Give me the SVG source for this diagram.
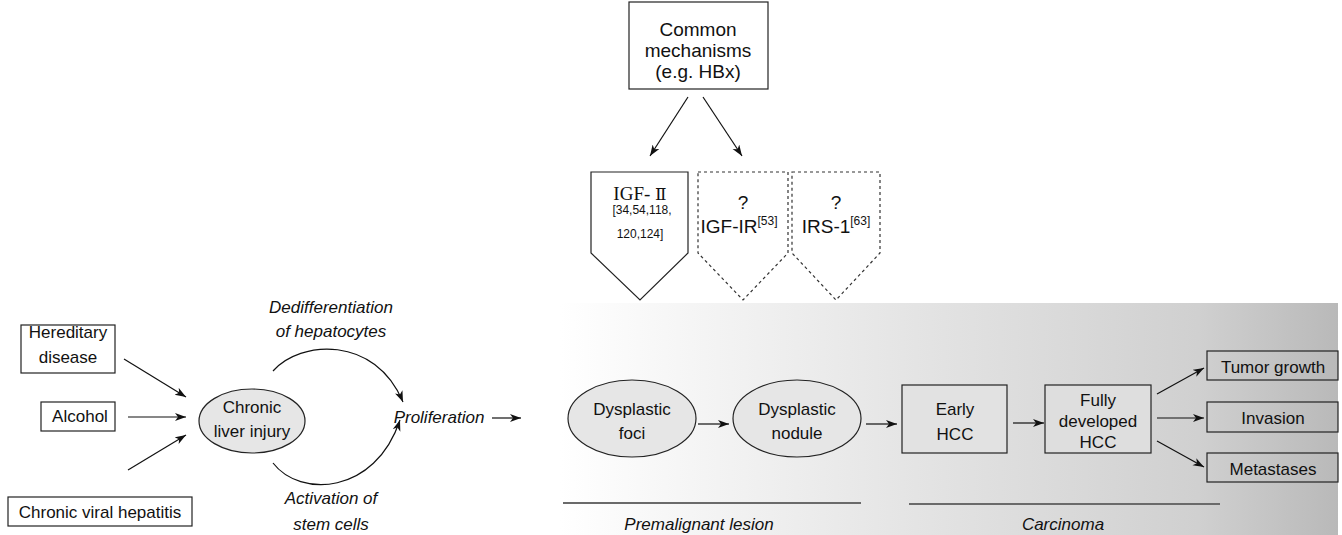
<svg xmlns="http://www.w3.org/2000/svg" width="1342" height="535" viewBox="0 0 1342 535">
<defs>
<linearGradient id="bg" gradientUnits="userSpaceOnUse" x1="560" y1="0" x2="1338" y2="0">
<stop offset="0" stop-color="#ffffff"/>
<stop offset="0.44" stop-color="#e5e5e5"/>
<stop offset="0.82" stop-color="#d0d0d0"/>
<stop offset="1" stop-color="#b9b9b9"/>
</linearGradient>
<marker id="ah" markerUnits="userSpaceOnUse" markerWidth="12" markerHeight="9" refX="11" refY="4" orient="auto">
<path d="M0,0 L11,4 L0,8 L3,4 z" fill="#111"/>
</marker>
</defs>
<style>
text{font-family:"Liberation Sans",Arial,sans-serif;font-size:17px;fill:#111;text-anchor:middle}
.it{font-style:italic}
.box{fill:#fff;stroke:#222;stroke-width:1.2}
.ell{fill:#e6e6e6;stroke:#222;stroke-width:1.2}
.gbox{fill:#e2e2e2;stroke:#222;stroke-width:1.2}
.tbox{fill:none;stroke:#222;stroke-width:1.2}
.dash{fill:#fff;stroke:#333;stroke-width:1.2;stroke-dasharray:3,3}
.con{fill:none;stroke:#111;stroke-width:1.2;marker-end:url(#ah)}
.gl{stroke:#6a6a6a;stroke-width:2}
.sm{font-size:12px}
.q{font-size:19px}
.ser{font-family:"Liberation Serif","DejaVu Serif","Times New Roman",serif;font-size:19px}
</style>
<rect x="560" y="303" width="778" height="232" fill="url(#bg)"/>

<g id="common">
<rect class="box" x="629" y="2" width="139" height="87"/>
<text x="698" y="36" style="font-size:19px">Common</text>
<text x="698" y="57" style="font-size:19px">mechanisms</text>
<text x="698" y="78" style="font-size:19px">(e.g. HBx)</text>
</g>
<g id="igf2">
<polygon class="box" points="591,172 688,172 688,253 640,300 591,253"/>
<text class="ser" x="640" y="200">IGF- <tspan style="font-family:'DejaVu Serif','Liberation Serif',serif;font-size:17px">Ⅱ</tspan></text>
<text class="sm" x="642" y="214">[34,54,118,</text>
<text class="sm" x="640" y="238">120,124]</text>
</g>
<g id="igf1r">
<polygon class="dash" points="698,172 788,172 788,253 743,300 698,253"/>
<text class="q" x="743" y="209">?</text>
<text class="q" x="739" y="233">IGF-IR<tspan class="sm" dy="-8">[53]</tspan></text>
</g>
<g id="irs1">
<polygon class="dash" points="792,172 880,172 880,253 836,300 792,253"/>
<text class="q" x="836" y="209">?</text>
<text class="q" x="836" y="233">IRS-1<tspan class="sm" dy="-8">[63]</tspan></text>
</g>

<g id="hereditary">
<rect class="box" x="21" y="325" width="94" height="48"/>
<text x="68" y="338">Hereditary</text>
<text x="68" y="363">disease</text>
</g>
<g id="alcohol">
<rect class="box" x="41" y="402" width="74" height="29"/>
<text x="80" y="422">Alcohol</text>
</g>
<g id="viral">
<rect class="box" x="8" y="497" width="184" height="29"/>
<text x="100" y="518">Chronic viral hepatitis</text>
</g>
<g id="liver">
<ellipse class="ell" cx="252" cy="421" rx="53" ry="32"/>
<text x="252" y="413">Chronic</text>
<text x="252" y="437">liver injury</text>
</g>
<g id="dediff">
<text class="it" x="331" y="313">Dedifferentiation</text>
<text class="it" x="331" y="337">of hepatocytes</text>
</g>
<g id="activation">
<text class="it" x="331" y="504">Activation of</text>
<text class="it" x="331" y="530">stem cells</text>
</g>
<g id="prolif">
<text class="it" x="439" y="423">Proliferation</text>
</g>
<g id="foci">
<ellipse class="ell" cx="632" cy="418.5" rx="64" ry="38.5"/>
<text x="632" y="415">Dysplastic</text>
<text x="632" y="439">foci</text>
</g>
<g id="nodule">
<ellipse class="ell" cx="797" cy="418.5" rx="64" ry="38.5"/>
<text x="797" y="415">Dysplastic</text>
<text x="797" y="439">nodule</text>
</g>
<g id="early">
<rect class="gbox" x="902" y="385" width="105" height="68"/>
<text x="955" y="415">Early</text>
<text x="955" y="440">HCC</text>
</g>
<g id="fully">
<rect class="gbox" x="1045" y="385" width="106" height="68" style="fill:#dedede"/>
<text x="1098" y="406">Fully</text>
<text x="1098" y="427">developed</text>
<text x="1098" y="448">HCC</text>
</g>
<g id="tumor">
<rect class="tbox" x="1207" y="351" width="131" height="29"/>
<text x="1273" y="373">Tumor growth</text>
</g>
<g id="invasion">
<rect class="tbox" x="1207" y="402" width="131" height="30"/>
<text x="1273" y="424">Invasion</text>
</g>
<g id="metastases">
<rect class="tbox" x="1207" y="453" width="131" height="29"/>
<text x="1273" y="475">Metastases</text>
</g>
<g id="stages">
<line class="gl" x1="563" y1="503" x2="861" y2="503"/>
<text class="it" x="699" y="530">Premalignant lesion</text>
<line class="gl" x1="909" y1="504" x2="1220" y2="504"/>
<text class="it" x="1063" y="530">Carcinoma</text>
</g>

<g id="connectors">
<line class="con" x1="688" y1="97" x2="650" y2="156"/>
<line class="con" x1="703" y1="97" x2="742" y2="156"/>
<line class="con" x1="124" y1="359" x2="186" y2="397"/>
<line class="con" x1="128" y1="417" x2="186" y2="417"/>
<line class="con" x1="128" y1="470" x2="186" y2="435"/>
<path class="con" d="M273,371 C300,340 375,335 403,402"/>
<path class="con" d="M273,463 C300,498 375,495 400,420"/>
<line class="con" x1="492" y1="418" x2="521" y2="418"/>
<line class="con" x1="698" y1="424" x2="729" y2="424"/>
<line class="con" x1="866" y1="424" x2="897" y2="424"/>
<line class="con" x1="1013" y1="423" x2="1044" y2="423"/>
<line class="con" x1="1157" y1="394" x2="1204" y2="368"/>
<line class="con" x1="1157" y1="418" x2="1204" y2="418"/>
<line class="con" x1="1157" y1="441" x2="1204" y2="467"/>
</g>
</svg>
